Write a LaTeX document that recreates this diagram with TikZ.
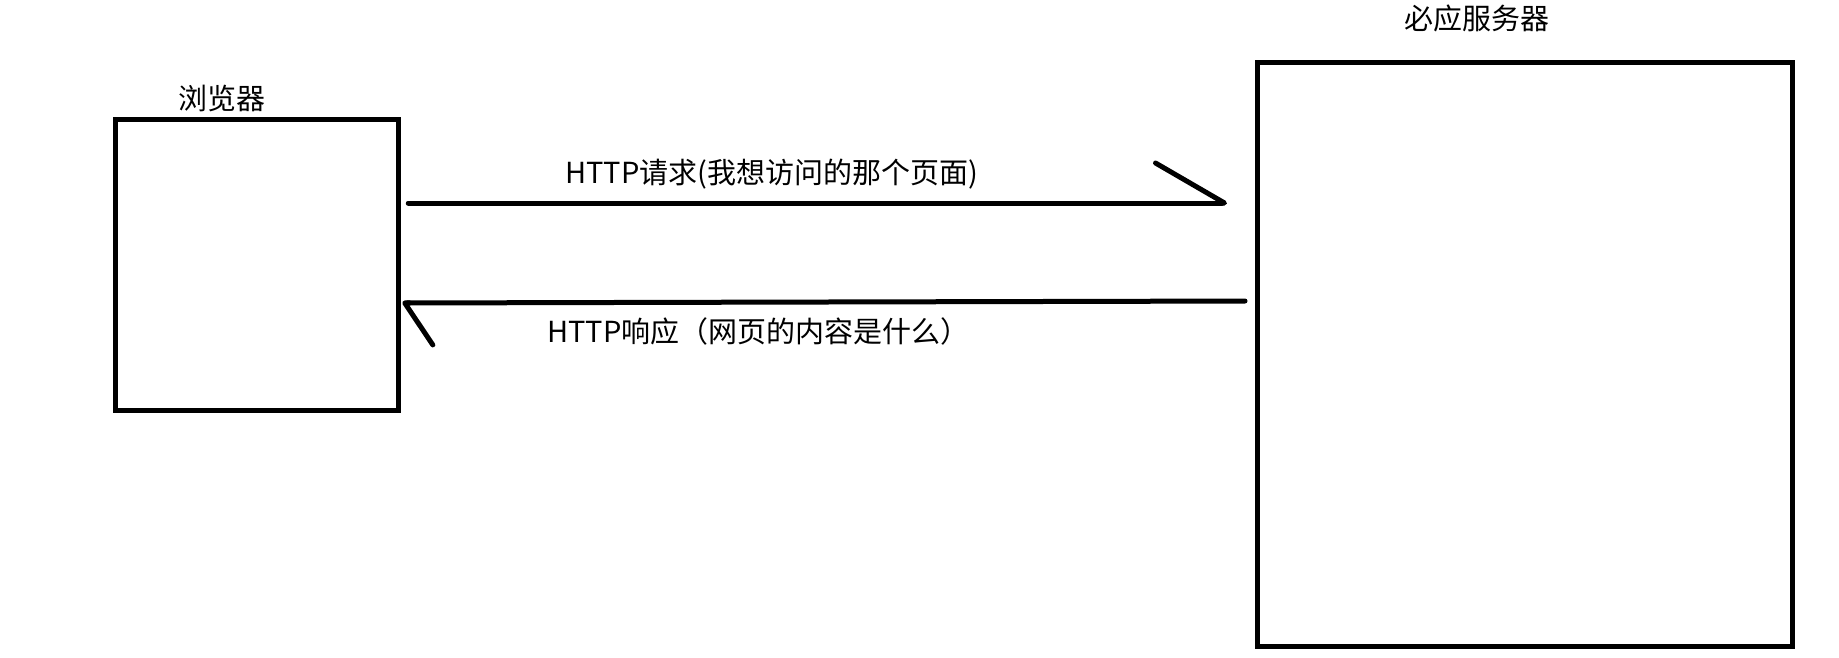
\documentclass[tikz,border=0pt]{standalone}
\usepackage{fontspec}
\setmainfont{Noto Sans CJK SC}
\usetikzlibrary{arrows.meta}

\begin{document}
\begin{tikzpicture}[x=1pt, y=-1pt]
  \tikzstyle{box}=[draw, line width=5pt, inner sep=0pt, outer sep=0pt]
  \tikzstyle{msg}=[line width=5pt, line cap=round, line join=round]
  \tikzstyle{lbl}=[font=\fontsize{29}{35}\selectfont, inner sep=0pt]
  \useasboundingbox (0,0) rectangle (1839,658);
  \node[box, minimum width=283.5pt, minimum height=290.5pt] (browser) at (257,265) {};
  \node[box, minimum width=535pt, minimum height=583pt] (server) at (1524.5,354.5) {};
  \node[lbl, anchor=base] (browserlbl) at (222,110) {浏览器};
  \node[lbl, anchor=base] (serverlbl) at (1477,30) {必应服务器};
  \node[lbl, anchor=base west] (reqlbl) at (565,183) {HTTP请求(我想访问的那个页面)};
  \node[lbl, anchor=base west] (resplbl) at (547,342) {HTTP响应（网页的内容是什么）};
  \draw[msg, -{Straight Barb[harpoon, round, length=69pt, width=80pt]}, shorten <=9.5pt, shorten >=30pt]
    ([yshift=62pt]browser.east) -- ([yshift=151.5pt]server.west);
  \draw[msg, -{Straight Barb[harpoon, round, length=28pt, width=84pt]}, shorten <=12pt, shorten >=3.5pt]
    ([yshift=53.5pt]server.west) -- ([yshift=-38pt]browser.east);
\end{tikzpicture}
\end{document}
